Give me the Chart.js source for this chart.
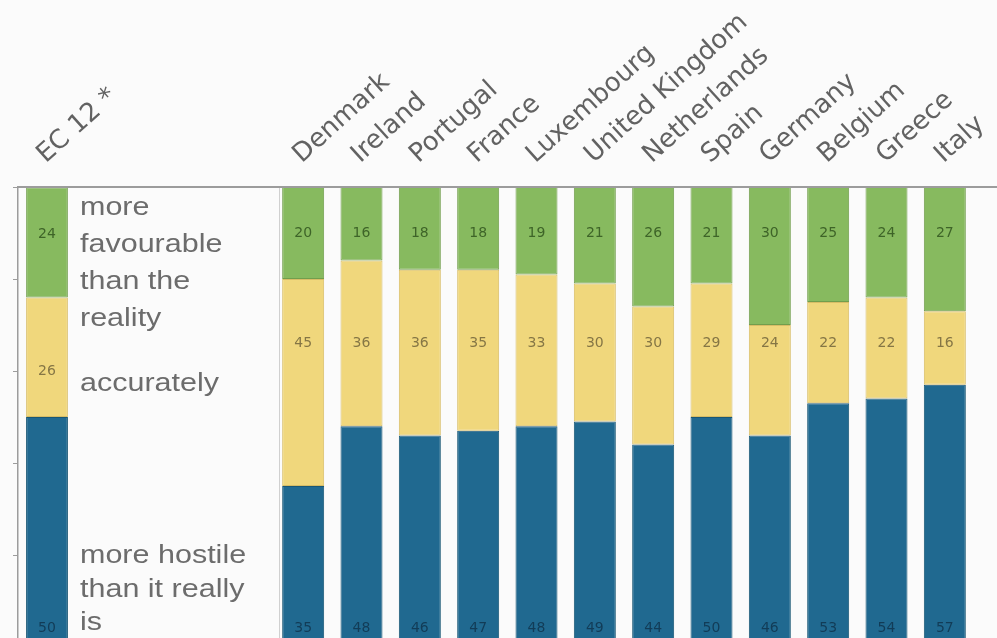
<!DOCTYPE html>
<html>
<head>
<meta charset="utf-8">
<title>Perceived portrayal, EC 12 and member states</title>
<script src="https://cdn.jsdelivr.net/npm/chart.js@4/dist/chart.umd.min.js"></script>
<style>
  html, body { margin: 0; padding: 0; background: #fbfbfb; width: 997px; height: 638px; overflow: hidden; }
  #overall { position: absolute; left: 0; top: 0; width: 282px; height: 660px; }
  #byCountry { position: absolute; left: 262px; top: 0; width: 735px; height: 660px; }
</style>
</head>
<body>
<div id="overall"><canvas id="overallChart"></canvas></div>
<div id="byCountry"><canvas id="countryChart"></canvas></div>
<script>
// Answer categories, stacked top to bottom
const answers = ['more favourable than the reality', 'accurately', 'more hostile than it really is'];
const answerLines = [['more', 'favourable', 'than the', 'reality'], ['accurately'], ['more hostile', 'than it really', 'is']];

// Community average
const overallLabel = ['EC 12 *'];
const overallFavourable = [24];
const overallAccurate = [26];
const overallHostile = [50];

// Member states (%)
const countries = ['Denmark', 'Ireland', 'Portugal', 'France', 'Luxembourg', 'United Kingdom',
                   'Netherlands', 'Spain', 'Germany', 'Belgium', 'Greece', 'Italy'];
const favourable = [20, 16, 18, 18, 19, 21, 26, 21, 30, 25, 24, 27];
const accurate   = [45, 36, 36, 35, 33, 30, 30, 29, 24, 22, 22, 16];
const hostile    = [35, 48, 46, 47, 48, 49, 44, 50, 46, 53, 54, 57];

const FILLS  = ['#87ba5f', '#f0d77c', '#206990'];
const EDGES  = ['#719e4d', '#d8bd66', '#195775'];
const INKS   = ['#3e6428', '#857645', '#123c57'];
const AXIS   = '#9c9c9c';
const TEXT   = '#626262';

function stackedSeries(fav, acc, hos) {
  return [fav, acc, hos].map((values, i) => ({
    label: answers[i],
    data: values,
    backgroundColor: FILLS[i],
    borderColor: EDGES[i],
    borderWidth: 1,
    borderSkipped: false,
    barPercentage: 0.72,
    categoryPercentage: 1
  }));
}

// Numbers printed inside each segment, at a fixed depth per answer band
const valueLabels = {
  id: 'valueLabels',
  afterDatasetsDraw(chart, args, opts) {
    const { ctx } = chart;
    const y = chart.scales.y;
    ctx.save();
    ctx.font = '14px "DejaVu Sans"';
    ctx.textAlign = 'center';
    ctx.textBaseline = 'middle';
    chart.data.datasets.forEach((ds, i) => {
      ctx.fillStyle = INKS[i];
      chart.getDatasetMeta(i).data.forEach((bar, j) => {
        ctx.fillText(String(ds.data[j]), bar.x, y.getPixelForValue(opts.at[i]));
      });
    });
    ctx.restore();
  }
};

// Top rule running across the plot, plus the boxed key beside the EC bar
const frame = {
  id: 'frame',
  afterDraw(chart, args, opts) {
    const { ctx, chartArea } = chart;
    ctx.save();
    ctx.strokeStyle = AXIS;
    ctx.lineWidth = 2;
    ctx.beginPath();
    ctx.moveTo(chartArea.left, chartArea.top);
    ctx.lineTo(chart.width, chartArea.top);
    ctx.stroke();
    if (opts.key) {
      const y = chart.scales.y;
      ctx.strokeStyle = '#d0d0d0';
      ctx.lineWidth = 1;
      ctx.beginPath();
      ctx.moveTo(chart.width - 2.5, chartArea.top);
      ctx.lineTo(chart.width - 2.5, chart.height);
      ctx.stroke();
      ctx.fillStyle = '#6c6c6c';
      ctx.font = '25px "Liberation Sans"';
      ctx.textBaseline = 'alphabetic';
      answerLines.forEach((lines, g) => {
        const base = y.getPixelForValue(opts.keyAt[g]);
        lines.forEach((line, k) => {
          ctx.save();
          ctx.translate(opts.keyX, base + k * opts.keyStep[g]);
          ctx.scale(1.22, 1);
          ctx.fillText(line, 0, 0);
          ctx.restore();
        });
      });
    }
    ctx.restore();
  }
};

function xAxis() {
  return {
    position: 'top',
    grid: { display: false },
    border: { display: true, color: AXIS, width: 2 },
    ticks: {
      color: TEXT,
      font: { family: '"DejaVu Sans"', size: 26 },
      minRotation: 42,
      maxRotation: 42,
      padding: 9,
      labelOffset: 15,
      autoSkip: false
    },
    afterFit(scale) {
      scale.height = 187;
      scale.paddingLeft = 0;
      scale.paddingRight = 0;
    }
  };
}

function yAxis(visible) {
  return {
    display: visible,
    stacked: true,
    reverse: true,
    min: 0,
    max: 100,
    ticks: { display: false, stepSize: 20 },
    grid: { drawOnChartArea: false, drawTicks: true, tickLength: 5, color: AXIS },
    border: { display: true, color: AXIS, width: 1.5 }
  };
}

const shared = {
  responsive: true,
  maintainAspectRatio: false,
  animation: false,
  events: [],
  plugins: { legend: { display: false }, tooltip: { enabled: false } }
};

new Chart(document.getElementById('overallChart'), {
  type: 'bar',
  data: { labels: overallLabel, datasets: stackedSeries(overallFavourable, overallAccurate, overallHostile) },
  plugins: [valueLabels, frame],
  options: {
    ...shared,
    layout: { padding: { left: 13, right: 206, top: 0, bottom: 13 } },
    scales: { x: { ...xAxis(), stacked: true }, y: yAxis(true) },
    plugins: {
      ...shared.plugins,
      valueLabels: { at: [10.4, 40, 96] },
      frame: { key: true, keyX: 80, keyAt: [6, 44.3, 81.8], keyStep: [37, 0, 33.5] }
    }
  }
});

new Chart(document.getElementById('countryChart'), {
  type: 'bar',
  data: { labels: countries, datasets: stackedSeries(favourable, accurate, hostile) },
  plugins: [valueLabels, frame],
  options: {
    ...shared,
    layout: { padding: { left: 12, right: 23, top: 0, bottom: 13 } },
    scales: { x: { ...xAxis(), stacked: true }, y: yAxis(false) },
    plugins: {
      ...shared.plugins,
      valueLabels: { at: [10, 34, 96] },
      frame: { key: false }
    }
  }
});
</script>
</body>
</html>
